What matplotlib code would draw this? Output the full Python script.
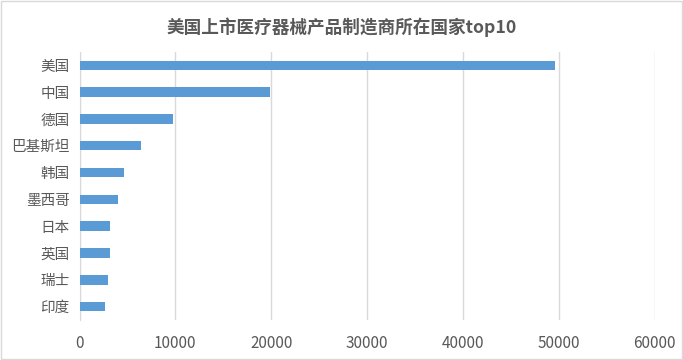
import matplotlib.pyplot as plt
from matplotlib.patches import Rectangle

plt.rcParams['font.family'] = ['Noto Sans CJK SC', 'DejaVu Sans']

countries = ["美国", "中国", "德国", "巴基斯坦", "韩国", "墨西哥", "日本", "英国", "瑞士", "印度"]
counts = [49650, 19830, 9760, 6430, 4650, 4030, 3190, 3150, 2990, 2670]
x_ticks = [0, 10000, 20000, 30000, 40000, 50000, 60000]
title = "美国上市医疗器械产品制造商所在国家top10"

text_color = "#595959"
grid_color = "#d9d9d9"
bar_color = "#5b9bd5"

fig = plt.figure(figsize=(6.83, 3.6), dpi=100, facecolor="white")
ax = fig.add_axes([0.1164, 0.111, 0.8422, 0.745])

pos = list(range(len(countries)))
ax.barh(pos, counts, height=0.35, color=bar_color, zorder=3)
ax.set_ylim(len(countries) - 0.5, -0.5)
ax.set_xlim(0, 60000)
ax.set_yticks(pos)
ax.set_yticklabels(countries)
ax.set_xticks(x_ticks)
ax.set_xticklabels([str(v) for v in x_ticks])

ax.grid(axis="x", color=grid_color, linewidth=1, zorder=0)
for side in ["top", "right", "bottom"]:
    ax.spines[side].set_visible(False)
ax.spines["left"].set_color(grid_color)
ax.tick_params(axis="y", length=0, pad=7, labelsize=10.5, labelcolor=text_color)
ax.tick_params(axis="x", length=0, pad=11, labelsize=11, labelcolor=text_color)

fig.text(0.5, 0.925, title, ha="center", va="center", fontsize=12.7,
         fontweight="bold", color=text_color)

fig.patches.append(Rectangle((0.002, 0.003), 0.996, 0.994, transform=fig.transFigure,
                             fill=False, edgecolor=grid_color, linewidth=1))

fig.savefig("out.png", dpi=100, facecolor="white")
